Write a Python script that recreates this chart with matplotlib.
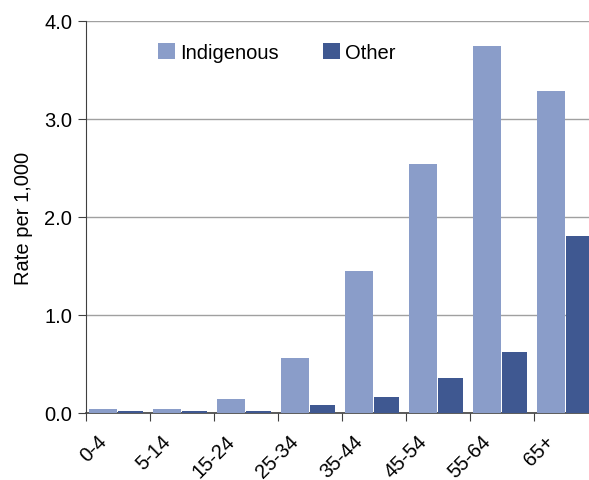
import matplotlib.pyplot as plt
import matplotlib.transforms as mtransforms
import numpy as np

plt.rcParams['font.family'] = ['Liberation Sans', 'DejaVu Sans']

# Rate per 1,000 by age group
age_groups = ["0-4", "5-14", "15-24", "25-34", "35-44", "45-54", "55-64", "65+"]
indigenous = [0.04, 0.04, 0.14, 0.56, 1.45, 2.54, 3.75, 3.29]
other = [0.02, 0.02, 0.02, 0.08, 0.16, 0.36, 0.62, 1.81]

light = "#8a9dc9"
dark = "#3f5891"

fig = plt.figure(figsize=(5.89, 4.81), dpi=100)
ax = fig.add_axes([86 / 589, 67 / 481, 512 / 589, 392 / 481])

x = np.arange(len(age_groups))
ax.bar(x - 0.45, indigenous, width=0.43, align='edge', color=light,
       edgecolor='none', label="Indigenous", zorder=3)
ax.bar(x, other, width=0.39, align='edge', color=dark,
       edgecolor='none', label="Other", zorder=3)

ax.set_xlim(-0.5, 7.5)
ax.set_ylim(0, 4.0)
ax.set_yticks([0, 1, 2, 3, 4])
ax.set_yticklabels(["%.1f" % v for v in [0, 1, 2, 3, 4]], fontsize=14.5)
ax.yaxis.grid(True, color='#a0a0a0', linewidth=1, zorder=0)
ax.set_axisbelow(True)

# ticks at category boundaries, labels rotated
ax.set_xticks(np.arange(-0.5, 7.5, 1.0))
ax.set_xticklabels([])
ax.set_xticks(x, minor=True)
ax.set_xticklabels(age_groups, minor=True, rotation=45, ha='right', va='top',
                   rotation_mode='anchor', fontsize=14.5)
ax.tick_params(axis='x', which='minor', length=0, pad=13)
offset = mtransforms.ScaledTranslation(-0.21, 0, fig.dpi_scale_trans)
for lab in ax.get_xticklabels(minor=True):
    lab.set_transform(lab.get_transform() + offset)
ax.tick_params(axis='x', which='major', length=6, color='#404040', direction='out')
ax.tick_params(axis='y', length=6, color='#404040', direction='out', pad=4)

for s in ['top', 'right']:
    ax.spines[s].set_visible(False)
for s in ['left', 'bottom']:
    ax.spines[s].set_color('#404040')
    ax.spines[s].set_zorder(2.5)
ax.spines['bottom'].set_linewidth(1.2)

ax.set_ylabel("Rate per 1,000", fontsize=14.5, labelpad=8)

ax.legend(loc='upper left', bbox_to_anchor=(158 / 589, 1 - 44 / 481),
          bbox_transform=fig.transFigure, ncol=2, frameon=False, fontsize=14.5,
          handlelength=0.85, handleheight=0.85, handletextpad=0.25,
          columnspacing=2.2, borderpad=0, borderaxespad=0)

fig.savefig("out.png", dpi=100)
